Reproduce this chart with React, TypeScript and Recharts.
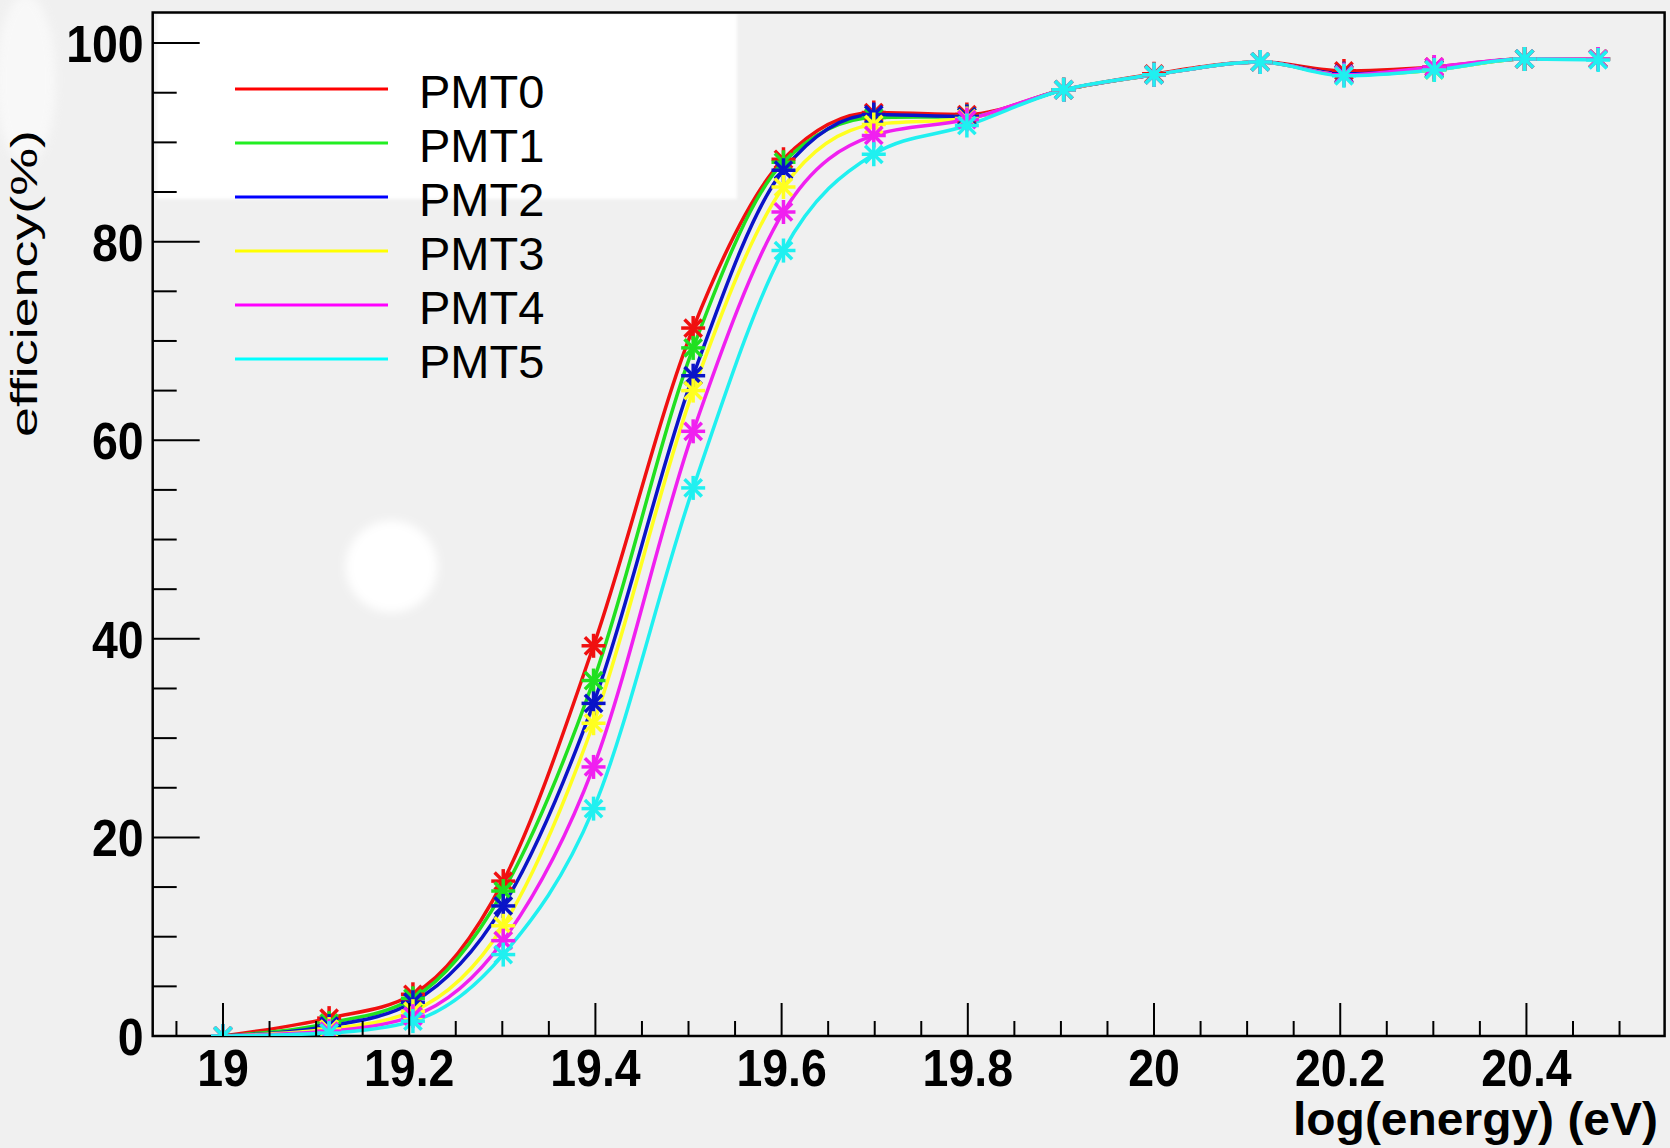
import React from "react";
import { LineChart, Line, XAxis, YAxis, ReferenceArea } from "recharts";

// log10(energy / eV) bins
const energies = [19, 19.114, 19.204, 19.301, 19.398, 19.505, 19.602, 19.699, 19.799, 19.903, 20, 20.114, 20.204, 20.301, 20.398, 20.477];

const pmt0 = [0, 1.8, 4.2, 15.6, 39.3, 71.3, 88.3, 93.0, 92.8, 95.3, 96.9, 98.1, 97.2, 97.6, 98.4, 98.4];
const pmt1 = [0, 1.3, 3.8, 14.6, 35.8, 69.3, 88.0, 92.5, 92.6, 95.3, 96.8, 98.1, 96.8, 97.3, 98.4, 98.4];
const pmt2 = [0, 1.0, 3.4, 13.1, 33.5, 66.5, 87.2, 92.8, 92.6, 95.3, 96.8, 98.1, 96.9, 97.4, 98.4, 98.4];
const pmt3 = [0, 0.7, 2.5, 11.1, 31.5, 65.0, 85.5, 91.8, 92.4, 95.3, 96.8, 98.1, 96.8, 97.3, 98.4, 98.4];
const pmt4 = [0, 0.5, 2.0, 9.6, 27.1, 60.9, 83.0, 90.7, 92.3, 95.3, 96.8, 98.1, 96.8, 97.6, 98.4, 98.4];
const pmt5 = [0, 0.3, 1.5, 8.2, 22.9, 55.2, 79.1, 88.8, 91.7, 95.3, 96.8, 98.1, 96.7, 97.3, 98.4, 98.3];

const seriesNames = ["PMT0", "PMT1", "PMT2", "PMT3", "PMT4", "PMT5"];
const seriesValues = [pmt0, pmt1, pmt2, pmt3, pmt4, pmt5];
const seriesColors = ["#f01010", "#20e020", "#0a14c8", "#ffff20", "#f020f0", "#20f0f0"];
const legendColors = ["#ff0000", "#22ee22", "#0000ff", "#ffff00", "#ff00ff", "#00ffff"];

const xMajorTicks = [19, 19.2, 19.4, 19.6, 19.8, 20, 20.2, 20.4];
const xAllTicks = [
  18.95, 19, 19.05, 19.1, 19.15, 19.2, 19.25, 19.3, 19.35, 19.4, 19.45, 19.5, 19.55, 19.6, 19.65,
  19.7, 19.75, 19.8, 19.85, 19.9, 19.95, 20, 20.05, 20.1, 20.15, 20.2, 20.25, 20.3, 20.35, 20.4,
  20.45, 20.5,
];
const yMajorTicks = [0, 20, 40, 60, 80, 100];
const yAllTicks = [0, 5, 10, 15, 20, 25, 30, 35, 40, 45, 50, 55, 60, 65, 70, 75, 80, 85, 90, 95, 100];

const xDomain = [18.9245, 20.5484];
const yDomain = [0, 103.08];

const xTitle = "log(energy) (eV)";
const yTitle = "efficiency(%)";

const FONT = "'Liberation Sans', Arial, Helvetica, sans-serif";

const data = energies.map((e, i) => {
  const row: Record<string, number> = { e };
  seriesNames.forEach((n, k) => {
    row[n] = seriesValues[k][i];
  });
  return row;
});

const isMajor = (v: number, list: number[]) => list.some((m) => Math.abs(m - v) < 1e-6);

const XTick = (props: any) => {
  const { x, y, payload } = props;
  const v = payload.value;
  const major = isMajor(v, xMajorTicks);
  return (
    <g>
      <line x1={x} y1={y} x2={x} y2={y - (major ? 33 : 15)} stroke="#000" strokeWidth={2} />
      {major && (
        <g transform={`translate(${x},${y + 50}) scale(0.93,1.04)`}>
          <text x={0} y={0} textAnchor="middle" fontSize={50} fontWeight="bold" fontFamily={FONT} fill="#000">
            {String(v)}
          </text>
        </g>
      )}
    </g>
  );
};

const YTick = (props: any) => {
  const { x, y, payload } = props;
  const v = payload.value;
  const major = isMajor(v, yMajorTicks);
  return (
    <g>
      <line x1={x} y1={y} x2={x + (major ? 47 : 24)} y2={y} stroke="#000" strokeWidth={2} />
      {major && (
        <g transform={`translate(${x - 9},${y + 19}) scale(0.93,1.04)`}>
          <text x={0} y={0} textAnchor="end" fontSize={50} fontWeight="bold" fontFamily={FONT} fill="#000">
            {String(v)}
          </text>
        </g>
      )}
    </g>
  );
};

const makeStar = (color: string) => (props: any) => {
  const { cx, cy, index } = props;
  if (cx == null || cy == null) return <g key={index} />;
  const r = 12;
  const d = r * 0.72;
  return (
    <g key={index} stroke={color} strokeWidth={3.5}>
      <line x1={cx - r} y1={cy} x2={cx + r} y2={cy} />
      <line x1={cx} y1={cy - r} x2={cx} y2={cy + r} />
      <line x1={cx - d} y1={cy - d} x2={cx + d} y2={cy + d} />
      <line x1={cx - d} y1={cy + d} x2={cx + d} y2={cy - d} />
    </g>
  );
};

export default function App() {
  return (
    <div
      style={{
        position: "absolute",
        left: 0,
        top: 0,
        width: 1670,
        height: 1148,
        background: "#f0f0f0",
        overflow: "hidden",
      }}
    >
      {/* background artifacts: white legend box, blurred spots */}
      <svg width={1670} height={1148} style={{ position: "absolute", left: 0, top: 0 }}>
        <defs>
          <filter id="blur6" x="-50%" y="-50%" width="200%" height="200%">
            <feGaussianBlur stdDeviation={5} />
          </filter>
          <filter id="blur2" x="-10%" y="-10%" width="120%" height="120%">
            <feGaussianBlur stdDeviation={1.5} />
          </filter>
        </defs>
        <ellipse cx={26} cy={80} rx={30} ry={85} fill="#ffffff" opacity={0.55} filter="url(#blur6)" />
        <circle cx={391.5} cy={566.5} r={46} fill="#ffffff" filter="url(#blur6)" />
        <rect x={157} y={14} width={580} height={185} fill="#ffffff" filter="url(#blur2)" />
      </svg>

      <div style={{ position: "absolute", left: 0, top: 0 }}>
        <LineChart
          width={1670}
          height={1148}
          data={data}
          margin={{ top: 12.5, right: 5.4, bottom: 0, left: 0 }}
        >
          <XAxis
            dataKey="e"
            type="number"
            domain={xDomain}
            allowDataOverflow
            ticks={xAllTicks}
            interval={0}
            tick={<XTick />}
            tickLine={false}
            axisLine={false}
            tickSize={0}
            tickMargin={0}
            height={112}
          />
          <YAxis
            type="number"
            domain={yDomain}
            allowDataOverflow
            ticks={yAllTicks}
            interval={0}
            tick={<YTick />}
            tickLine={false}
            axisLine={false}
            tickSize={0}
            tickMargin={0}
            width={152.7}
          />
          <ReferenceArea
            x1={xDomain[0]}
            x2={xDomain[1]}
            y1={yDomain[0]}
            y2={yDomain[1]}
            fill="none"
            fillOpacity={0}
            stroke="#000"
            strokeWidth={2.5}
            ifOverflow="visible"
          />
          {seriesNames.map((n, k) => (
            <Line
              key={n}
              dataKey={n}
              type="monotone"
              stroke={seriesColors[k]}
              strokeWidth={3.5}
              dot={makeStar(seriesColors[k])}
              activeDot={false}
              isAnimationActive={false}
            />
          ))}
        </LineChart>
      </div>

      {/* legend and axis titles */}
      <svg width={1670} height={1148} style={{ position: "absolute", left: 0, top: 0, pointerEvents: "none" }}>
        {seriesNames.map((n, k) => {
          const base = 108 + 54 * k;
          return (
            <g key={n}>
              <line x1={235} x2={388} y1={base - 19} y2={base - 19} stroke={legendColors[k]} strokeWidth={3} />
              <text x={419} y={base} fontSize={47} fontFamily={FONT} fill="#000">
                {n}
              </text>
            </g>
          );
        })}
        <text
          x={1658}
          y={1135}
          textAnchor="end"
          fontSize={46}
          fontWeight="bold"
          fontFamily={FONT}
          fill="#000"
          textLength={365}
          lengthAdjust="spacingAndGlyphs"
        >
          {xTitle}
        </text>
        <text
          transform="translate(37,283.5) rotate(-90)"
          x={0}
          y={0}
          textAnchor="middle"
          fontSize={36}
          fontFamily={FONT}
          fill="#000"
          textLength={307}
          lengthAdjust="spacingAndGlyphs"
        >
          {yTitle}
        </text>
      </svg>
    </div>
  );
}
